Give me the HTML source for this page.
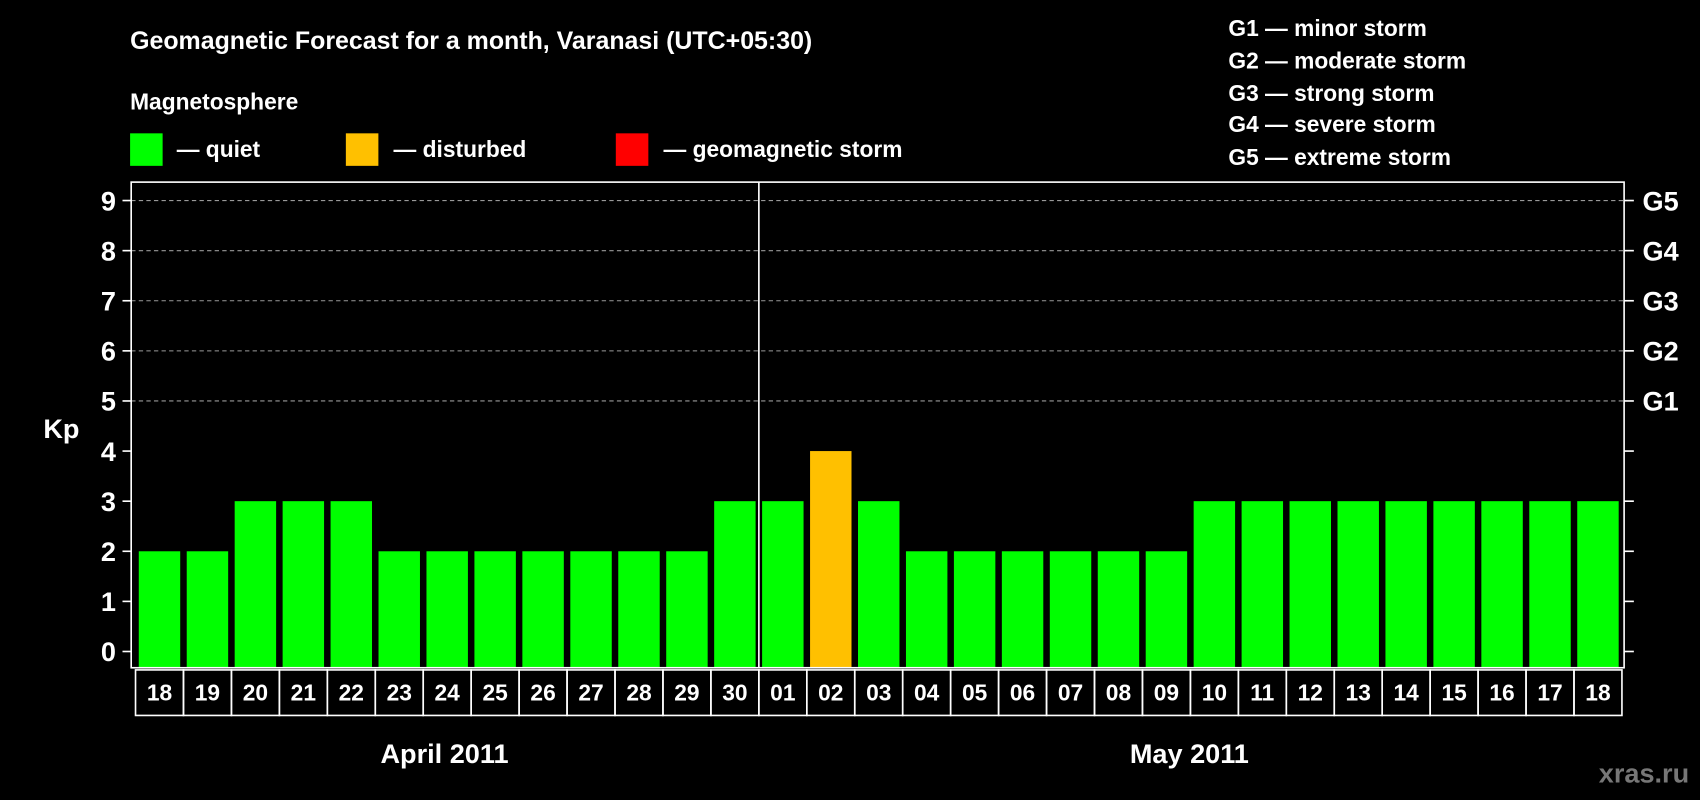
<!DOCTYPE html>
<html><head><meta charset="utf-8"><style>
html,body{margin:0;padding:0;background:#000;}
svg{display:block;}
text{font-family:"Liberation Sans",Arial,sans-serif;font-weight:bold;fill:#fff;}
</style></head><body>
<svg id="chart" width="1700" height="800" viewBox="0 0 1568 738" preserveAspectRatio="none" xmlns="http://www.w3.org/2000/svg">
<rect x="0" y="0" width="1568" height="738" fill="#000"/>
<text x="120" y="45" font-size="23">Geomagnetic Forecast for a month, Varanasi (UTC+05:30)</text>
<text x="120" y="101" font-size="21">Magnetosphere</text>
<g><rect x="120" y="123" width="30" height="30" fill="#00ff00"/><text x="163" y="145" font-size="21">— quiet</text></g>
<g><rect x="319" y="123" width="30" height="30" fill="#ffc000"/><text x="363" y="145" font-size="21">— disturbed</text></g>
<g><rect x="568" y="123" width="30" height="30" fill="#ff0000"/><text x="612" y="145" font-size="21">— geomagnetic storm</text></g>
<g font-size="21">
<text x="1133" y="33">G1 — minor storm</text>
<text x="1133" y="63">G2 — moderate storm</text>
<text x="1133" y="93">G3 — strong storm</text>
<text x="1133" y="122">G4 — severe storm</text>
<text x="1133" y="152">G5 — extreme storm</text>
</g>
<text x="40" y="404" font-size="25">Kp</text>
<g id="plot"></g>
<text x="410" y="704" font-size="25" text-anchor="middle">April 2011</text>
<text x="1097" y="704" font-size="25" text-anchor="middle">May 2011</text>
<text x="1558" y="722" font-size="25" text-anchor="end" style="fill:#777">xras.ru</text>
</svg>
<script>
const days = ["18","19","20","21","22","23","24","25","26","27","28","29","30","01","02","03","04","05","06","07","08","09","10","11","12","13","14","15","16","17","18"];
const kpValues = [2,2,3,3,3,2,2,2,2,2,2,2,3,3,4,3,2,2,2,2,2,2,3,3,3,3,3,3,3,3,3];
const yTicks = [0,1,2,3,4,5,6,7,8,9];
const gLabels = ["G1","G2","G3","G4","G5"];
const gLevels = [5,6,7,8,9];
const monthSplitIndex = 13;

const NS="http://www.w3.org/2000/svg";
const plot=document.getElementById('plot');
const frameL=121, frameR=1498, frameT=168, frameB=616;
const cellL=125, cellW=(1496-125)/days.length;
function y(v){return 601-(601-185)*v/9;}
function x(i){return cellL+i*cellW;}
function mk(t,a){const e=document.createElementNS(NS,t);for(const k in a)e.setAttribute(k,a[k]);plot.appendChild(e);return e;}

yTicks.forEach(v=>{
  if(v>=5){const g=mk('line',{x1:frameL,x2:frameR,y1:y(v),y2:y(v),stroke:'#999','stroke-dasharray':'4,3','stroke-width':1});
  
  }
  const t=mk('line',{x1:frameL-8,x2:frameL,y1:y(v),y2:y(v),stroke:'#fff','stroke-width':1.5});
  
  
  const r=mk('line',{x1:frameR,x2:frameR+9,y1:y(v),y2:y(v),stroke:'#fff','stroke-width':1.5});
  
  
  const l=mk('text',{x:frameL-14,y:y(v)+9,'font-size':25,'text-anchor':'end'});
  l.textContent=v;
  
  
});
gLabels.forEach((g,i)=>{
  const l=mk('text',{x:1515,y:y(gLevels[i])+9,'font-size':25});
  l.textContent=g;
  
  
});
kpValues.forEach((v,i)=>{
  const col=v>=5?'#ff0000':(v>=4?'#ffc000':'#00ff00');
  const b=mk('rect',{x:x(i)+3,y:y(v),width:cellW-6,height:y(-0.32)-y(v),fill:col});
  
  
  const c=mk('rect',{x:x(i),y:frameB+2,width:cellW,height:42,fill:'none',stroke:'#fff','stroke-width':1.5});
  
  
  const t=mk('text',{x:x(i)+cellW/2,y:frameB+30,'font-size':21,'text-anchor':'middle'});
  t.textContent=days[i];
  
  
});
const f=mk('rect',{x:frameL,y:frameT,width:frameR-frameL,height:frameB-frameT,fill:'none',stroke:'#fff','stroke-width':1.5});


const d=mk('line',{x1:x(monthSplitIndex),x2:x(monthSplitIndex),y1:frameT,y2:frameB,stroke:'#fff','stroke-width':1.5});


</script>
</body></html>
